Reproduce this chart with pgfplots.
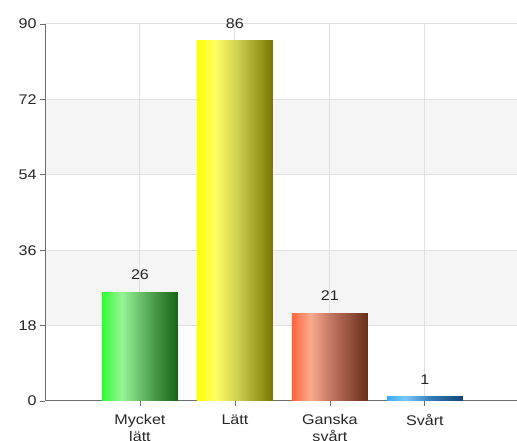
\documentclass[border=0pt]{standalone}
\usepackage{fontspec}
\setmainfont{Liberation Sans}[FakeStretch=1.15]
\usepackage{pgfplots}
\pgfplotsset{compat=1.18}
\definecolor{gA}{RGB}{50,250,50}
\definecolor{gB}{RGB}{150,245,150}
\definecolor{gC}{RGB}{70,150,70}
\definecolor{gD}{RGB}{20,100,20}
\definecolor{yA}{RGB}{255,255,0}
\definecolor{yB}{RGB}{255,255,100}
\definecolor{yC}{RGB}{205,205,80}
\definecolor{yD}{RGB}{120,120,0}
\definecolor{oA}{RGB}{255,100,60}
\definecolor{oB}{RGB}{250,170,140}
\definecolor{oC}{RGB}{185,110,90}
\definecolor{oD}{RGB}{105,45,25}
\definecolor{bA}{RGB}{60,170,240}
\definecolor{bB}{RGB}{120,200,250}
\definecolor{bC}{RGB}{50,120,180}
\definecolor{bD}{RGB}{20,70,120}
\pgfdeclarehorizontalshading{greenbar}{100bp}{color(0bp)=(gA); color(25bp)=(gA); color(38bp)=(gB); color(60bp)=(gC); color(75bp)=(gD); color(100bp)=(gD)}
\pgfdeclarehorizontalshading{yellowbar}{100bp}{color(0bp)=(yA); color(25bp)=(yA); color(37bp)=(yB); color(52bp)=(yC); color(75bp)=(yD); color(100bp)=(yD)}
\pgfdeclarehorizontalshading{orangebar}{100bp}{color(0bp)=(oA); color(25bp)=(oA); color(37bp)=(oB); color(53bp)=(oC); color(75bp)=(oD); color(100bp)=(oD)}
\pgfdeclarehorizontalshading{bluebar}{100bp}{color(0bp)=(bA); color(25bp)=(bA); color(37bp)=(bB); color(55bp)=(bC); color(75bp)=(bD); color(100bp)=(bD)}
\definecolor{gridc}{RGB}{225,225,225}
\definecolor{bandc}{RGB}{245,245,245}
\definecolor{axc}{RGB}{110,110,110}
\newcommand{\cf}{\fontsize{14}{17}\selectfont}
\begin{document}
\begin{tikzpicture}
\begin{axis}[
  at={(45pt,40pt)}, anchor=south west,
  scale only axis, width=472pt, height=377pt,
  set layers=standard,
  xmin=-1, xmax=3.97, ymin=0, ymax=90,
  axis x line*=bottom, axis y line*=left,
  axis line style={-, axc, line width=1pt},
  xtick={0,1,2,3},
  xticklabels={{Mycket\\lätt},{Lätt},{Ganska\\svårt},{Svårt}},
  ytick={0,18,36,54,72,90},
  tick align=outside, major tick length=5pt,
  tick style={axc, line width=0.8pt},
  xmajorgrids, ymajorgrids,
  major grid style={gridc, line width=1pt},
  /pgf/number format/assume math mode=true,
  ticklabel style={font=\cf, text=black!85},
  xticklabel style={align=center, yshift=-5pt},
  ybar, bar width=0.8, bar shift=0pt,
  nodes near coords,
  every node near coord/.append style={font=\cf, text=black!85, yshift=9pt},
]
\begin{pgfonlayer}{axis background}
\fill[bandc] (axis cs:-1,18) rectangle (axis cs:3.97,36);
\fill[bandc] (axis cs:-1,54) rectangle (axis cs:3.97,72);
\end{pgfonlayer}
\addplot[draw=none, shading=greenbar] coordinates {(0,26)};
\addplot[draw=none, shading=yellowbar] coordinates {(1,86)};
\addplot[draw=none, shading=orangebar] coordinates {(2,21)};
\addplot[draw=none, shading=bluebar] coordinates {(3,1)};
\end{axis}
\pgfresetboundingbox
\useasboundingbox (0,0) rectangle (517pt,441pt);
\end{tikzpicture}
\end{document}
